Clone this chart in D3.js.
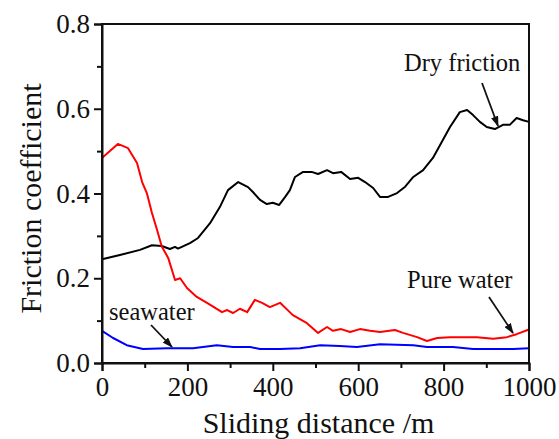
<!DOCTYPE html>
<html>
<head>
<meta charset="utf-8">
<script src="https://cdn.jsdelivr.net/npm/d3@7"></script>
<style>
  html, body { margin: 0; padding: 0; background: #fff; }
  svg { display: block; }
  text { font-family: "Liberation Serif", "Times New Roman", serif; fill: #111; }
</style>
</head>
<body>
<svg id="chart" width="559" height="439"></svg>
<script>
// ---- data ----
const dryX = [0, 42, 89, 117, 140, 159, 171, 178, 206, 225, 253, 276, 295, 319, 342, 354, 370, 386, 400, 415, 429, 440, 452, 471, 491, 506, 527, 541, 560, 581, 600, 616, 635, 651, 670, 691, 710, 729, 752, 775, 796, 815, 838, 855, 869, 885, 901, 920, 939, 955, 971, 986, 1000];
const dryY = [0.245, 0.255, 0.267, 0.278, 0.276, 0.269, 0.274, 0.270, 0.283, 0.295, 0.330, 0.368, 0.408, 0.427, 0.415, 0.403, 0.385, 0.375, 0.378, 0.373, 0.392, 0.408, 0.439, 0.451, 0.451, 0.446, 0.455, 0.448, 0.451, 0.434, 0.437, 0.427, 0.413, 0.392, 0.392, 0.401, 0.416, 0.439, 0.455, 0.484, 0.522, 0.557, 0.592, 0.597, 0.585, 0.569, 0.557, 0.552, 0.562, 0.562, 0.578, 0.573, 0.569];

const pureX = [0, 37, 61, 82, 94, 105, 117, 129, 140, 155, 164, 171, 183, 199, 222, 246, 281, 293, 307, 323, 340, 358, 375, 393, 417, 447, 480, 506, 527, 541, 560, 581, 604, 628, 651, 686, 705, 738, 761, 785, 815, 845, 878, 916, 948, 971, 1000];
const pureY = [0.484, 0.517, 0.507, 0.472, 0.427, 0.401, 0.354, 0.314, 0.275, 0.248, 0.219, 0.196, 0.200, 0.177, 0.156, 0.142, 0.120, 0.125, 0.118, 0.128, 0.120, 0.149, 0.142, 0.132, 0.142, 0.113, 0.094, 0.071, 0.085, 0.076, 0.080, 0.073, 0.080, 0.076, 0.073, 0.078, 0.071, 0.061, 0.052, 0.059, 0.061, 0.061, 0.061, 0.057, 0.061, 0.068, 0.079];

const seaX = [0, 26, 58, 96, 152, 213, 269, 307, 347, 370, 417, 464, 511, 557, 597, 651, 729, 761, 822, 869, 916, 963, 1000];
const seaY = [0.076, 0.059, 0.042, 0.033, 0.035, 0.035, 0.042, 0.038, 0.038, 0.033, 0.033, 0.035, 0.042, 0.040, 0.038, 0.044, 0.042, 0.038, 0.038, 0.033, 0.033, 0.033, 0.035];

const xMajor = [0, 200, 400, 600, 800, 1000];
const xMinor = [100, 300, 500, 700, 900];
const yMajor = [0.0, 0.2, 0.4, 0.6, 0.8];
const yMinor = [0.1, 0.3, 0.5, 0.7];

const seriesNames = ["Dry friction", "Pure water", "seawater"];
const seriesColors = ["#000000", "#ff0000", "#0000ff"];

// ---- layout ----
const svg = d3.select("#chart");
const L = 102, R = 529, T = 24, B = 363;
const x = d3.scaleLinear().domain([0, 1000]).range([L, R]);
const y = d3.scaleLinear().domain([0, 0.8]).range([B, T]);

const line = d3.line().x(d => x(d[0])).y(d => y(d[1]));
const series = [
  d3.zip(dryX, dryY),
  d3.zip(pureX, pureY),
  d3.zip(seaX, seaY)
];

const g = svg.append("g");
series.forEach((s, i) => {
  g.append("path").datum(s)
    .attr("d", line)
    .attr("fill", "none")
    .attr("stroke", seriesColors[i])
    .attr("stroke-width", 2)
    .attr("stroke-linejoin", "round");
});

// frame
svg.append("rect").attr("x", L).attr("y", T).attr("width", R - L).attr("height", B - T)
  .attr("fill", "none").attr("stroke", "#111").attr("stroke-width", 2);

// axes
const xAxis = d3.axisBottom(x).tickValues(xMajor).tickFormat(d3.format("d")).tickSize(8).tickPadding(6);
const gx = svg.append("g").attr("transform", `translate(0,${B})`).call(xAxis);
gx.select(".domain").attr("stroke-width", 2).attr("stroke", "#111");
gx.selectAll(".tick line").attr("stroke-width", 2).attr("stroke", "#111");
gx.selectAll(".tick text").attr("font-size", 27).attr("font-family", "Liberation Serif").attr("fill", "#111");
const xAxisMinor = d3.axisBottom(x).tickValues(xMinor).tickFormat("").tickSize(5);
const gxm = svg.append("g").attr("transform", `translate(0,${B})`).call(xAxisMinor);
gxm.select(".domain").remove();
gxm.selectAll(".tick line").attr("stroke-width", 2).attr("stroke", "#111");

const yAxis = d3.axisLeft(y).tickValues(yMajor).tickFormat(d3.format(".1f")).tickSize(8).tickPadding(4);
const gy = svg.append("g").attr("transform", `translate(${L},0)`).call(yAxis);
gy.select(".domain").attr("stroke-width", 2).attr("stroke", "#111");
gy.selectAll(".tick line").attr("stroke-width", 2).attr("stroke", "#111");
gy.selectAll(".tick text").attr("font-size", 27).attr("font-family", "Liberation Serif").attr("fill", "#111");
const yAxisMinor = d3.axisLeft(y).tickValues(yMinor).tickFormat("").tickSize(5);
const gym = svg.append("g").attr("transform", `translate(${L},0)`).call(yAxisMinor);
gym.select(".domain").remove();
gym.selectAll(".tick line").attr("stroke-width", 2).attr("stroke", "#111");

// axis titles
svg.append("text").attr("x", (L + R) / 2 + 3).attr("y", 433)
  .attr("text-anchor", "middle").attr("font-size", 30).text("Sliding distance /m");
svg.append("text").attr("transform", `translate(41,${(T + B) / 2 + 5}) rotate(-90)`)
  .attr("text-anchor", "middle").attr("font-size", 30).text("Friction coefficient");

// annotations
const defs = svg.append("defs");
defs.append("marker").attr("id", "ah").attr("viewBox", "0 0 10 7")
  .attr("refX", 9).attr("refY", 3.5).attr("markerWidth", 11).attr("markerHeight", 7.5)
  .attr("markerUnits", "userSpaceOnUse")
  .attr("orient", "auto")
  .append("path").attr("d", "M0,0 L10,3.5 L0,7 Z").attr("fill", "#111");

const ann = [
  { name: seriesNames[0], tx: 404, ty: 71, a: [[482, 83], [498, 126]] },
  { name: seriesNames[1], tx: 407, ty: 288, a: [[489, 297], [513, 333]] },
  { name: seriesNames[2], tx: 109, ty: 320, a: [[151, 325], [172, 347]] }
];
ann.forEach(d => {
  svg.append("text").attr("x", d.tx).attr("y", d.ty).attr("font-size", 24.5).text(d.name);
  svg.append("line")
    .attr("x1", d.a[0][0]).attr("y1", d.a[0][1])
    .attr("x2", d.a[1][0]).attr("y2", d.a[1][1])
    .attr("stroke", "#111").attr("stroke-width", 1.8)
    .attr("marker-end", "url(#ah)");
});
</script>
</body>
</html>
